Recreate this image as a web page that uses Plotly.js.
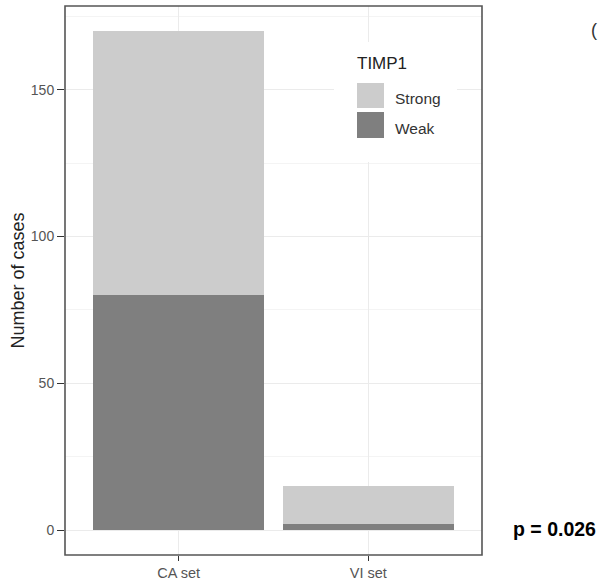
<!DOCTYPE html>
<html>
<head>
<meta charset="utf-8">
<script src="https://cdn.plot.ly/plotly-3.0.1.min.js"></script>
<style>html,body{margin:0;padding:0;background:#fff;}#chart{width:599px;height:585px;}</style>
</head>
<body>
<div id="chart"></div>
<script>
// ---- data ----
const categories = ['CA set', 'VI set'];
const weakValues = [80, 2];
const strongValues = [90, 13];
const seriesNames = ['Strong', 'Weak'];
const seriesColors = ['#cccccc', '#7f7f7f'];
const yTickValues = [0, 50, 100, 150];
const legendTitle = 'TIMP1';
const pValueText = 'p = 0.026';

// ---- layout geometry ----
const W = 599, H = 585;
const M = {l: 65, r: 117, t: 6, b: 30};
const pw = W - M.l - M.r, ph = H - M.t - M.b;
const px = x => (x - M.l) / pw;
const py = y => (H - M.b - y) / ph;

const font = 'Liberation Sans, Arial, sans-serif';

const traces = [
  {type: 'bar', name: seriesNames[1], x: categories, y: weakValues,
   marker: {color: seriesColors[1], line: {width: 0}}, width: 0.9, showlegend: false, hoverinfo: 'skip'},
  {type: 'bar', name: seriesNames[0], x: categories, y: strongValues,
   marker: {color: seriesColors[0], line: {width: 0}}, width: 0.9, showlegend: false, hoverinfo: 'skip'}
];

const shapes = [
  // legend background
  {type: 'rect', xref: 'paper', yref: 'paper', x0: px(334), x1: px(457), y0: py(162), y1: py(42),
   fillcolor: '#ffffff', line: {width: 0}, layer: 'above'},
  {type: 'rect', xref: 'paper', yref: 'paper', x0: px(357), x1: px(384), y0: py(108), y1: py(83),
   fillcolor: seriesColors[0], line: {width: 0}, layer: 'above'},
  {type: 'rect', xref: 'paper', yref: 'paper', x0: px(357), x1: px(384), y0: py(138), y1: py(112),
   fillcolor: seriesColors[1], line: {width: 0}, layer: 'above'},
  // panel border
  {type: 'rect', xref: 'paper', yref: 'paper', x0: 0, x1: 1, y0: 0, y1: 1,
   line: {color: '#555555', width: 1.6}, fillcolor: 'rgba(0,0,0,0)', layer: 'above'}
];

const annotations = [
  {xref: 'paper', yref: 'paper', x: px(355), y: py(63), xanchor: 'left', yanchor: 'middle',
   text: legendTitle, showarrow: false, font: {family: font, size: 17, color: '#222222'}},
  {xref: 'paper', yref: 'paper', x: px(393), y: py(98), xanchor: 'left', yanchor: 'middle',
   text: seriesNames[0], showarrow: false, font: {family: font, size: 15.5, color: '#333333'}},
  {xref: 'paper', yref: 'paper', x: px(393), y: py(128), xanchor: 'left', yanchor: 'middle',
   text: seriesNames[1], showarrow: false, font: {family: font, size: 15.5, color: '#333333'}},
  {xref: 'paper', yref: 'paper', x: px(511), y: py(529), xanchor: 'left', yanchor: 'middle',
   text: '<b>' + pValueText + '</b>', showarrow: false, font: {family: font, size: 19.5, color: '#000000'}},
  {xref: 'paper', yref: 'paper', x: px(599), y: py(30), xanchor: 'right', yanchor: 'middle',
   text: '(', showarrow: false, font: {family: font, size: 18, color: '#333333'}}
];

const layout = {
  width: W, height: H,
  margin: M,
  paper_bgcolor: '#ffffff', plot_bgcolor: '#ffffff',
  barmode: 'stack',
  bargap: 0.1,
  showlegend: false,
  font: {family: font},
  xaxis: {
    type: 'category', range: [-0.6, 1.6],
    showgrid: true, gridcolor: '#ebebeb', gridwidth: 1,
    ticks: 'outside', ticklen: 5, tickcolor: '#333333', tickwidth: 1,
    tickfont: {family: font, size: 14.5, color: '#555555'},
    showline: false, zeroline: false, fixedrange: true
  },
  yaxis: {
    range: [-8.5, 178.5],
    tickvals: yTickValues,
    showgrid: true, gridcolor: '#ebebeb', gridwidth: 1,
    minor: {dtick: 25, showgrid: true, gridcolor: '#f4f4f4', gridwidth: 1, ticks: ''},
    ticks: 'outside', ticklen: 7, tickcolor: '#333333', tickwidth: 1,
    tickfont: {family: font, size: 14, color: '#555555'},
    showline: false, zeroline: false, fixedrange: true,
    title: {text: 'Number of cases', font: {family: font, size: 18, color: '#222222'}, standoff: 1}
  },
  shapes: shapes,
  annotations: annotations
};

Plotly.newPlot('chart', traces, layout, {displayModeBar: false, staticPlot: true});
</script>
</body>
</html>
